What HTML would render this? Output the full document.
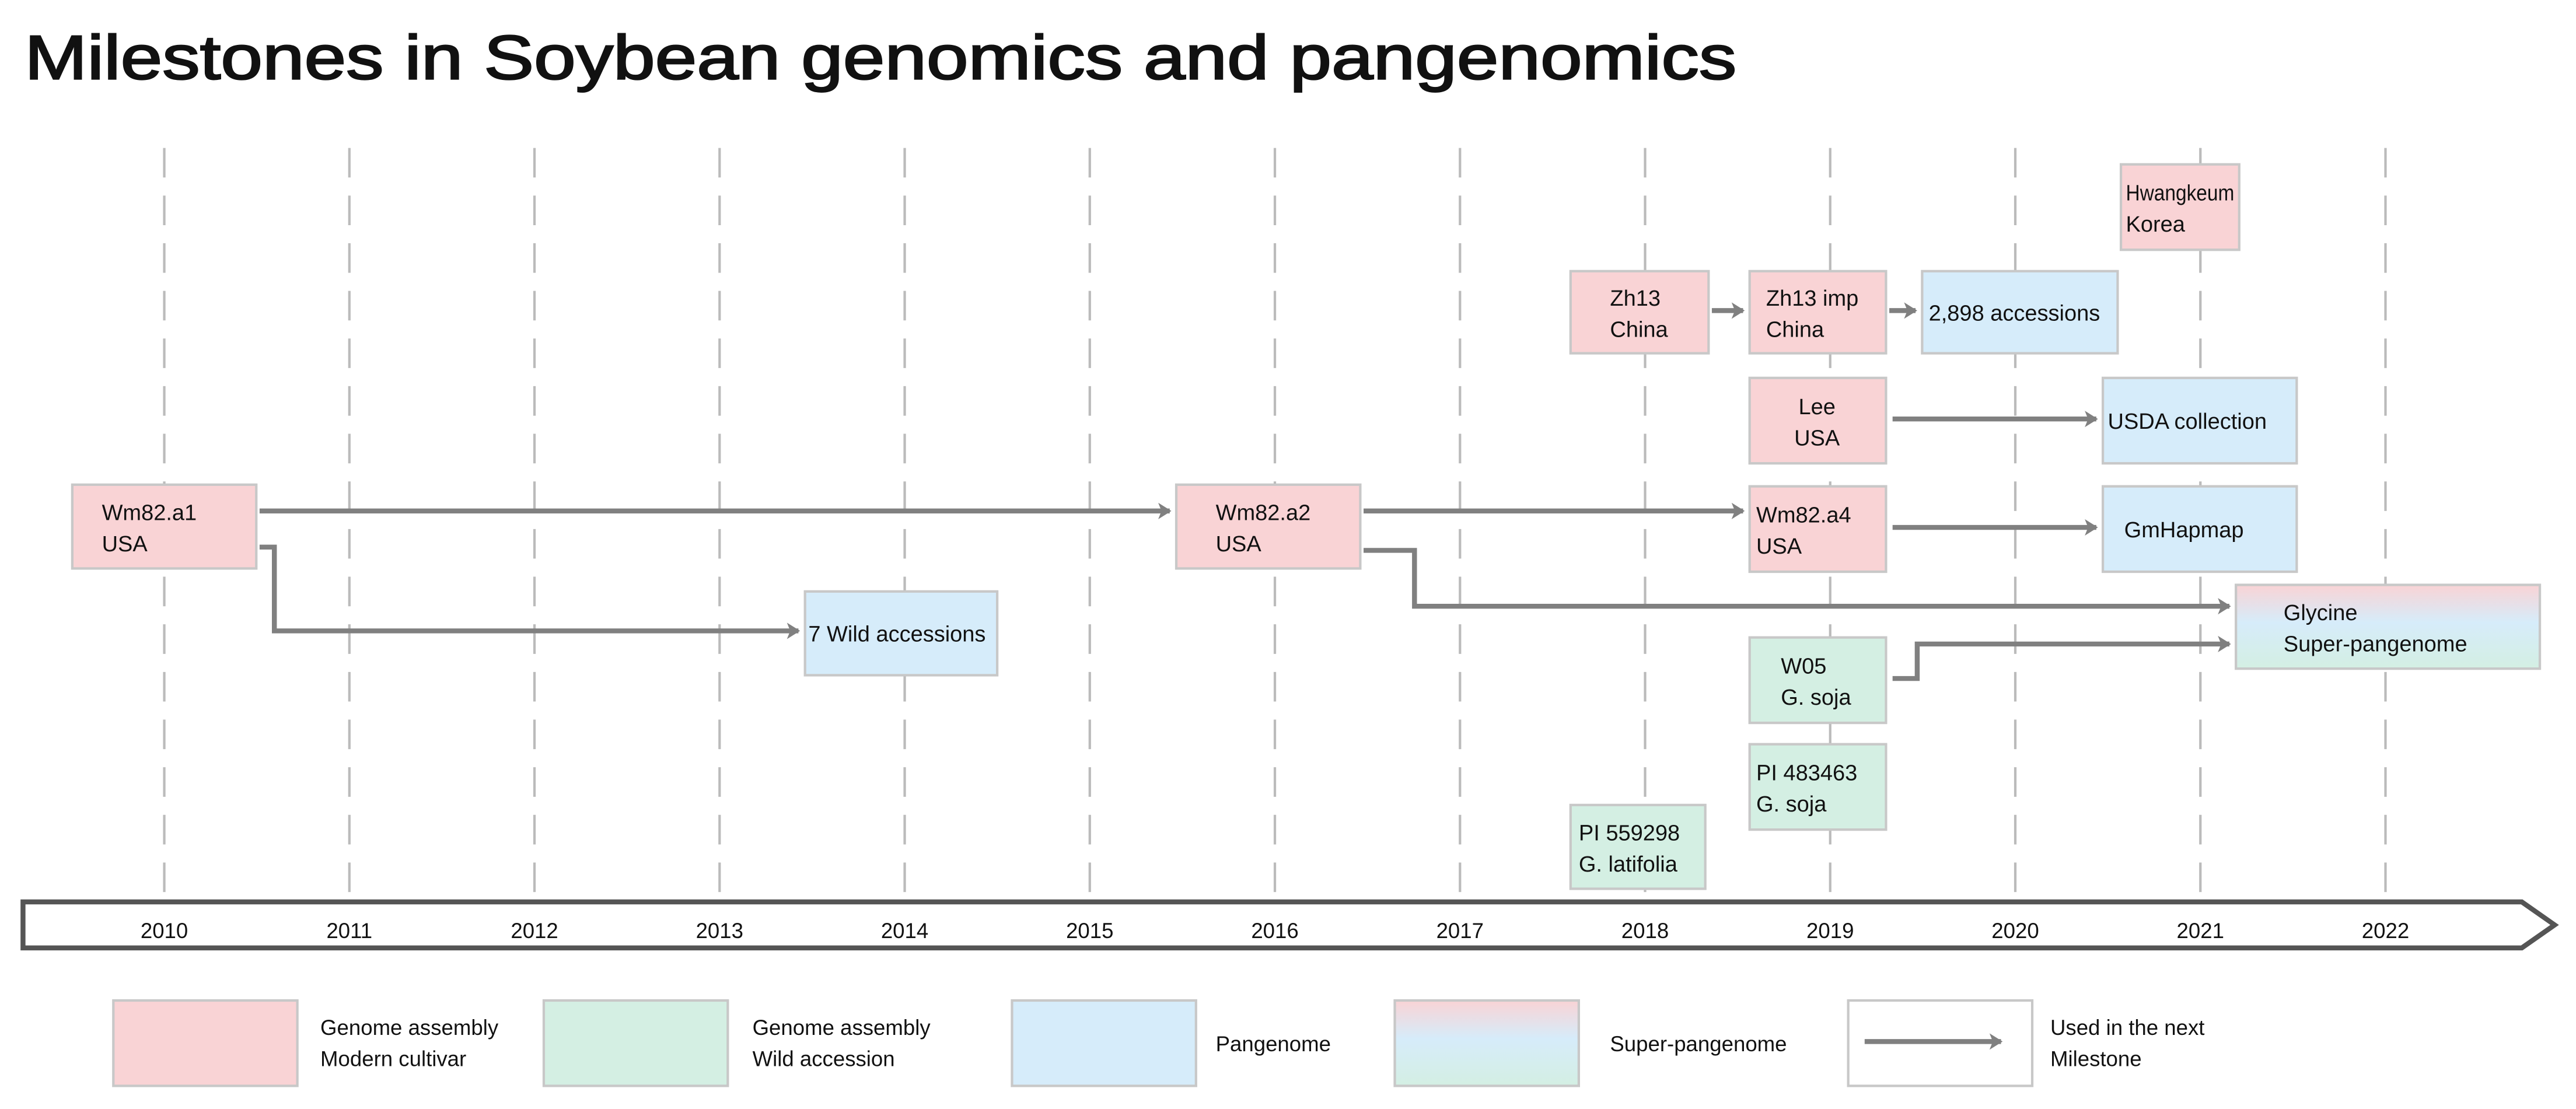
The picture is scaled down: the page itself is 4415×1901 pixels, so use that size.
<!DOCTYPE html>
<html><head><meta charset="utf-8"><style>
html,body{margin:0;padding:0;background:#fff;}
svg{display:block;}
text{font-family:"Liberation Sans Narrow","Liberation Sans",sans-serif;fill:#111;}
</style></head><body>
<svg id="chart" width="4415" height="1901" viewBox="0 0 1568 675" xmlns="http://www.w3.org/2000/svg">
<defs>
<linearGradient id="sp" x1="0" y1="0" x2="0" y2="1">
<stop offset="0" stop-color="#f9d3d5"/><stop offset="0.45" stop-color="#d6ecfa"/><stop offset="1" stop-color="#d4efe3"/>
</linearGradient>
<marker id="ah" markerWidth="10" markerHeight="10" refX="7" refY="5" orient="auto" markerUnits="userSpaceOnUse">
<path d="M0,0 L8,5 L0,10 L2,5 Z" fill="#808080"/>
</marker>
</defs>
<text x="15" y="48" font-size="38" textLength="1042" lengthAdjust="spacingAndGlyphs" style="font-family:'Liberation Sans',sans-serif;font-weight:normal;stroke:#111;stroke-width:0.9">Milestones in Soybean genomics and pangenomics</text>
<g id="grid"></g>
<g id="axis">
<path d="M14,549 L1535,549 L1555,563 L1535,577 L14,577 Z" fill="#fff" stroke="#555" stroke-width="3"/>
</g>
<g id="arrows" fill="none" stroke="#808080" stroke-width="3">
<path d="M158,311 L712,311" marker-end="url(#ah)"/>
<path d="M158,333 L167,333 L167,384 L486,384" marker-end="url(#ah)"/>
<path d="M830,311 L1061,311" marker-end="url(#ah)"/>
<path d="M830,335 L861,335 L861,369 L1357,369" marker-end="url(#ah)"/>
<path d="M1042,189 L1061,189" marker-end="url(#ah)"/>
<path d="M1150,189 L1166,189" marker-end="url(#ah)"/>
<path d="M1152,255 L1276,255" marker-end="url(#ah)"/>
<path d="M1152,321 L1276,321" marker-end="url(#ah)"/>
<path d="M1152,413 L1167,413 L1167,392 L1357,392" marker-end="url(#ah)"/>
</g>
<g id="boxes" font-size="13.5"></g>
<g id="legend" font-size="13"></g>
</svg>
<script>
var years = ["2010","2011","2012","2013","2014","2015","2016","2017","2018","2019","2020","2021","2022"];
var yearStart = 2010;
var NS = "http://www.w3.org/2000/svg";
function xScale(y){ return 100 + (y - yearStart) * 112.67; }
function mk(tag, attrs, parent){ var e=document.createElementNS(NS,tag); for(var k in attrs) e.setAttribute(k,attrs[k]); parent.appendChild(e); return e; }
var grid=document.getElementById('grid'), axis=document.getElementById('axis');
years.forEach(function(y,i){
  var x=xScale(yearStart+i);
  var l=mk('line',{x1:x,y1:90,x2:x,y2:545,stroke:'#bbb','stroke-width':1.5,'stroke-dasharray':'18 11'},grid);
  
  
  var t=mk('text',{x:x,y:571,'text-anchor':'middle','font-size':13},axis);
  t.textContent=y;
  
  
});
var PINK='#f9d3d5',BLUE='#d6ecfa',GREEN='#d4efe3';
var boxes=[
 ['wm82-a1',44,295,112,51,PINK,['Wm82.a1','USA'],62,'start'],
 ['seven-wild',490,360,117,51,BLUE,['7 Wild accessions'],492,'start'],
 ['wm82-a2',716,295,112,51,PINK,['Wm82.a2','USA'],740,'start'],
 ['zh13',956,165,84,50,PINK,['Zh13','China'],980,'start'],
 ['zh13-imp',1065,165,83,50,PINK,['Zh13 imp','China'],1075,'start'],
 ['accessions-2898',1170,165,119,50,BLUE,['2,898 accessions'],1174,'start'],
 ['hwangkeum',1291,100,72,52,PINK,['Hwangkeum','Korea'],1294,'start'],
 ['lee',1065,230,83,52,PINK,['Lee','USA'],1106,'middle'],
 ['usda',1280,230,118,52,BLUE,['USDA collection'],1283,'start'],
 ['wm82-a4',1065,296,83,52,PINK,['Wm82.a4','USA'],1069,'start'],
 ['gmhapmap',1280,296,118,52,BLUE,['GmHapmap'],1293,'start'],
 ['glycine',1361,356,185,51,'url(#sp)',['Glycine','Super-pangenome'],1390,'start'],
 ['w05',1065,388,83,52,GREEN,['W05','G. soja'],1084,'start'],
 ['pi483463',1065,453,83,52,GREEN,['PI 483463','G. soja'],1069,'start'],
 ['pi559298',956,490,82,51,GREEN,['PI 559298','G. latifolia'],961,'start']
];
var bg=document.getElementById('boxes');
boxes.forEach(function(b){
  var g=mk('g',{},bg);
  
  
  mk('rect',{x:b[1],y:b[2],width:b[3],height:b[4],fill:b[5],stroke:'#c8c8c8','stroke-width':1.5},g);
  var n=b[6].length, cy=b[2]+b[4]/2;
  b[6].forEach(function(s,i){
    var t=mk('text',{x:b[7],y:(n==1?cy+5:cy-4+i*19),'text-anchor':b[8]},g);
    if(b[0]=='hwangkeum' && i==0){ t.setAttribute('textLength','66'); t.setAttribute('lengthAdjust','spacingAndGlyphs'); }
    t.textContent=s;
  });
});
var lg=document.getElementById('legend');
var leg=[
 ['modern-cultivar',69,PINK,['Genome assembly','Modern cultivar'],195],
 ['wild-accession',331,GREEN,['Genome assembly','Wild accession'],458],
 ['pangenome',616,BLUE,['Pangenome'],740],
 ['super-pangenome',849,'url(#sp)',['Super-pangenome'],980],
 ['used-next',1125,'#fff',['Used in the next','Milestone'],1248]
];
leg.forEach(function(e){
  var g=mk('g',{},lg);
  
  
  mk('rect',{x:e[1],y:609,width:112,height:52,fill:e[2],stroke:'#c8c8c8','stroke-width':1.5},g);
  if(e[0]=='used-next') mk('path',{d:'M1135,634 L1218,634',stroke:'#808080','stroke-width':3,fill:'none','marker-end':'url(#ah)'},g);
  var n=e[3].length;
  e[3].forEach(function(s,i){
    var t=mk('text',{x:e[4],y:(n==1?640:630+i*19)},g);
    t.textContent=s;
  });
});
</script>
</body></html>
